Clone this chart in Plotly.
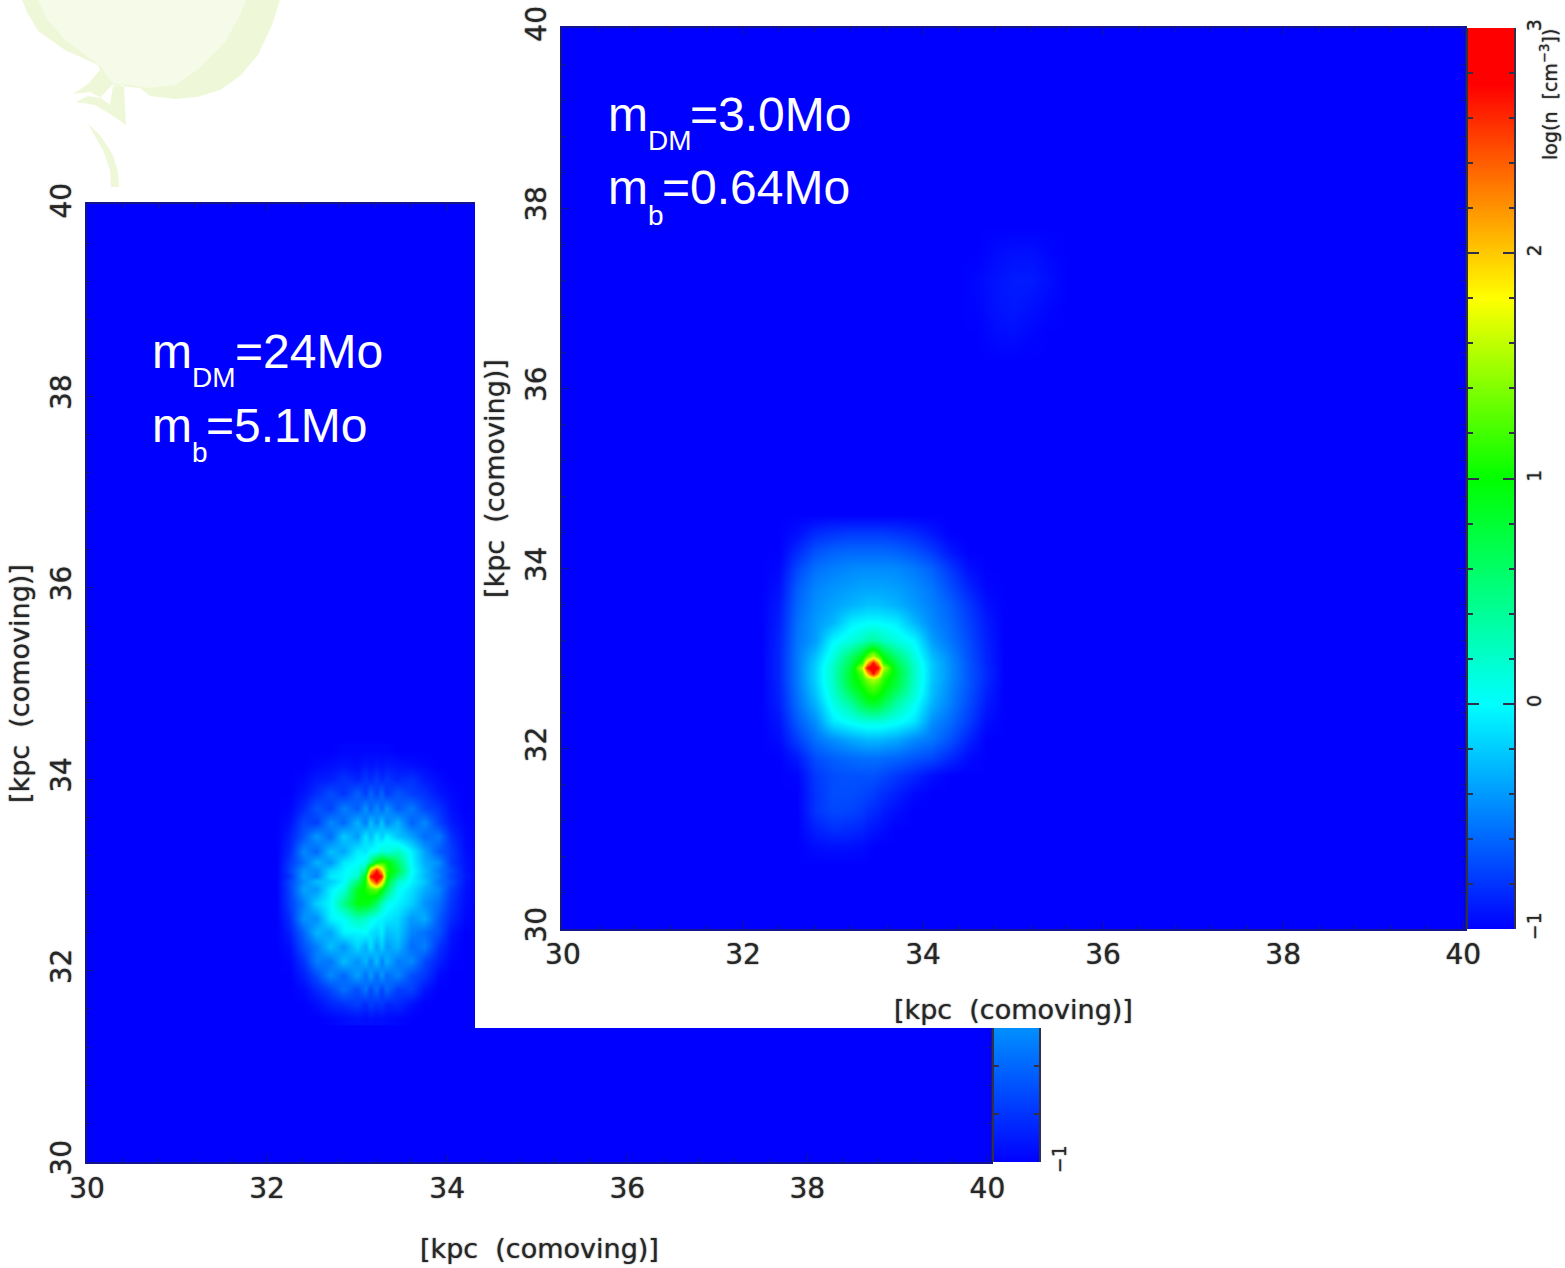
import plotly.graph_objects as go

W, H = 1565, 1268
NAVY = "#14148c"
TXT = "#262626"
BAR = "#30304a"
BLUR = "0 0 1.5px rgba(0,0,0,0.65)"
TICK_FONT = dict(family="DejaVu Sans", size=28, color=TXT, shadow=BLUR)
TITLE_FONT = dict(family="DejaVu Sans", size=27, color=TXT, shadow=BLUR)

# colour scale stops (log n)
cb_levels = [-1, 0, 1, 1.8, 2.75, 3]
cb_colors = ["#0000ff", "#00ffff", "#00ff00", "#ffff00", "#ff0000", "#ff0000"]
cb_ticks = [-1, 0, 1, 2, 3]
cb_labels = ["\u22121", "0", "1", "2", "3"]
pos_ticks = [30, 32, 34, 36, 38, 40]
floor_value = -1
axis_title = "[kpc\u00a0\u00a0(comoving)]"

# right-hand panel (m_DM = 3.0)
front_x = [32.2, 32.4, 32.6, 32.8, 33.0, 33.2, 33.32, 33.38, 33.44, 33.5, 33.56, 33.7, 33.9, 34.1, 34.3, 34.5, 34.7, 34.9, 35.1]
front_y = [34.6, 34.4, 34.2, 34.0, 33.8, 33.6, 33.4, 33.2, 33.02, 32.96, 32.9, 32.84, 32.78, 32.7, 32.6, 32.5, 32.3, 32.1, 31.9, 31.7, 31.5, 31.3, 31.1, 30.9, 30.7]
front_z = [
 [-1,-1,-1,-1,-1,-1,-1,-1,-1,-1,-1,-1,-1,-1,-1,-1,-1,-1,-1],
 [-1,-1,-.95,-.84,-.8,-.78,-.78,-.78,-.78,-.78,-.78,-.8,-.84,-.92,-1,-1,-1,-1,-1],
 [-1,-1,-.84,-.68,-.62,-.6,-.6,-.6,-.6,-.6,-.6,-.62,-.68,-.78,-.92,-1,-1,-1,-1],
 [-1,-.97,-.72,-.56,-.5,-.46,-.45,-.45,-.45,-.45,-.45,-.46,-.52,-.62,-.78,-.94,-1,-1,-1],
 [-1,-.94,-.64,-.48,-.42,-.38,-.36,-.36,-.36,-.36,-.36,-.38,-.45,-.54,-.7,-.86,-.98,-1,-1],
 [-1,-.9,-.6,-.44,-.36,-.3,-.26,-.24,-.24,-.24,-.26,-.3,-.4,-.5,-.62,-.78,-.94,-1,-1],
 [-1,-.88,-.56,-.4,-.28,-.06,-.02,0,0,0,-.02,-.06,-.28,-.46,-.58,-.74,-.9,-1,-1],
 [-1,-.86,-.54,-.38,-.02,.12,.25,.32,.38,.32,.25,.12,-.02,-.38,-.54,-.7,-.88,-1,-1],
 [-1,-.85,-.52,-.24,.12,.6,.95,1.3,1.6,1.3,.95,.55,.12,-.26,-.46,-.68,-.86,-1,-1],
 [-1,-.85,-.52,-.2,.18,.7,1.15,2.0,2.7,2.1,1.15,.7,.18,-.22,-.45,-.66,-.86,-1,-1],
 [-1,-.85,-.52,-.18,.22,.8,1.6,2.7,3,2.7,1.6,.8,.22,-.22,-.44,-.66,-.84,-1,-1],
 [-1,-.85,-.52,-.18,.22,.85,1.25,2.0,2.7,2.1,1.3,.85,.22,-.22,-.44,-.66,-.84,-1,-1],
 [-1,-.85,-.52,-.18,.22,.85,1.15,1.4,1.6,1.45,1.15,.8,.22,-.22,-.44,-.66,-.84,-1,-1],
 [-1,-.86,-.53,-.2,.2,.8,1.05,1.2,1.3,1.2,1.05,.75,.2,-.24,-.46,-.66,-.86,-1,-1],
 [-1,-.87,-.55,-.24,.16,.6,.9,1.02,1.08,1.02,.9,.55,.15,-.26,-.48,-.68,-.88,-1,-1],
 [-1,-.88,-.57,-.3,.08,.38,.68,.8,.85,.8,.68,.35,.05,-.3,-.5,-.7,-.9,-1,-1],
 [-1,-.92,-.65,-.44,-.08,.04,.1,.12,.12,.12,.1,.04,-.1,-.44,-.58,-.76,-.95,-1,-1],
 [-1,-.96,-.76,-.56,-.44,-.34,-.3,-.28,-.28,-.28,-.3,-.34,-.46,-.54,-.68,-.86,-1,-1,-1],
 [-1,-1,-.9,-.7,-.62,-.58,-.56,-.56,-.56,-.56,-.58,-.6,-.66,-.72,-.84,-.96,-1,-1,-1],
 [-1,-1,-.98,-.78,-.7,-.68,-.68,-.68,-.68,-.7,-.72,-.78,-.86,-.95,-1,-1,-1,-1,-1],
 [-1,-1,-1,-.8,-.7,-.7,-.72,-.74,-.76,-.8,-.82,-.88,-.97,-1,-1,-1,-1,-1,-1],
 [-1,-1,-1,-.8,-.72,-.74,-.78,-.82,-.84,-.86,-.9,-.95,-1,-1,-1,-1,-1,-1,-1],
 [-1,-1,-1,-.88,-.82,-.84,-.87,-.9,-.92,-.94,-.96,-1,-1,-1,-1,-1,-1,-1,-1],
 [-1,-1,-1,-.96,-.94,-.95,-.96,-.98,-1,-1,-1,-1,-1,-1,-1,-1,-1,-1,-1],
 [-1,-1,-1,-1,-1,-1,-1,-1,-1,-1,-1,-1,-1,-1,-1,-1,-1,-1,-1],
]

# faint clump in the upper part of the right-hand panel
clump_x = [34.4, 34.6, 34.8, 35.0, 35.2, 35.4, 35.6]
clump_y = [37.8, 37.5, 37.2, 36.9, 36.6, 36.3]
clump_z = [
 [-1, -1, -1, -1, -1, -1, -1],
 [-1, -1, -.96, -.94, -.94, -.98, -1],
 [-1, -.97, -.93, -.9, -.9, -.95, -1],
 [-1, -.98, -.93, -.91, -.94, -.98, -1],
 [-1, -1, -.96, -.95, -.98, -1, -1],
 [-1, -1, -1, -1, -1, -1, -1],
]

# left-hand panel (m_DM = 24)
back_x = [32.1, 32.25, 32.4, 32.55, 32.7, 32.85, 33.0, 33.09, 33.15, 33.21, 33.27, 33.33, 33.45, 33.6, 33.75, 33.9, 34.05, 34.2, 34.35]
back_y = [34.3, 34.15, 34.0, 33.85, 33.7, 33.55, 33.4, 33.25, 33.13, 33.05, 32.99, 32.93, 32.85, 32.7, 32.55, 32.4, 32.25, 32.1, 31.95, 31.8, 31.65, 31.5]
back_z = [
 [-1,-1,-1,-1,-1,-.98,-.98,-.98,-.98,-.98,-.98,-.98,-1,-1,-1,-1,-1,-1,-1],
 [-1,-1,-1,-.97,-.95,-.92,-.95,-.9,-.93,-.9,-.93,-.9,-.92,-.95,-.97,-1,-1,-1,-1],
 [-1,-1,-.97,-.9,-.88,-.8,-.86,-.78,-.84,-.76,-.84,-.78,-.85,-.8,-.9,-.96,-1,-1,-1],
 [-1,-1,-.92,-.82,-.7,-.8,-.62,-.76,-.6,-.74,-.6,-.78,-.66,-.76,-.8,-.92,-.97,-1,-1],
 [-1,-.98,-.84,-.66,-.74,-.5,-.64,-.42,-.62,-.44,-.6,-.42,-.64,-.52,-.72,-.8,-.94,-1,-1],
 [-1,-.94,-.72,-.76,-.46,-.6,-.3,-.52,-.24,-.46,-.22,-.48,-.3,-.62,-.46,-.74,-.9,-.98,-1],
 [-1,-.88,-.66,-.4,-.58,-.2,-.4,-.08,-.28,-.04,-.2,-.02,-.22,-.36,-.58,-.52,-.82,-.96,-1],
 [-1,-.84,-.46,-.6,-.24,-.36,-.05,-.1,.02,.0,.2,.1,.25,-.05,-.36,-.64,-.76,-.95,-1],
 [-1,-.78,-.56,-.3,-.42,-.08,.0,.1,.5,1.0,1.15,1.05,.6,-.02,-.32,-.44,-.78,-.92,-1],
 [-1,-.74,-.42,-.46,-.16,-.04,.12,.5,2.0,2.7,2.0,1.15,.75,.02,-.26,-.52,-.7,-.92,-1],
 [-1,-.8,-.38,-.48,-.08,-.02,.2,1.0,2.7,3,2.7,1.1,.5,-.02,-.28,-.48,-.74,-.9,-1],
 [-1,-.72,-.44,-.26,-.2,-.02,.55,1.05,2.0,2.7,2.0,.9,.2,-.04,-.22,-.54,-.68,-.92,-1],
 [-1,-.74,-.36,-.4,-.06,.12,.9,1.05,1.2,1.3,1.0,.6,.05,-.12,-.32,-.46,-.76,-.93,-1],
 [-1,-.76,-.5,-.18,-.02,.45,.95,.95,.85,.6,.3,.05,-.04,-.18,-.42,-.56,-.8,-.95,-1],
 [-1,-.82,-.42,-.44,-.04,.02,.3,.2,.1,.0,-.04,-.08,-.14,-.4,-.32,-.64,-.84,-.97,-1],
 [-1,-.88,-.6,-.28,-.36,-.04,-.04,.0,-.1,-.16,-.06,-.26,-.2,-.48,-.56,-.68,-.92,-1,-1],
 [-1,-.94,-.68,-.5,-.24,-.42,-.14,-.32,-.1,-.36,-.18,-.38,-.28,-.58,-.5,-.8,-.95,-1,-1],
 [-1,-.98,-.8,-.5,-.54,-.26,-.44,-.28,-.48,-.24,-.5,-.3,-.52,-.46,-.72,-.88,-.98,-1,-1],
 [-1,-1,-.88,-.7,-.46,-.6,-.36,-.56,-.38,-.6,-.4,-.58,-.48,-.7,-.78,-.96,-1,-1,-1],
 [-1,-1,-.96,-.84,-.72,-.56,-.7,-.54,-.72,-.56,-.74,-.58,-.76,-.74,-.92,-1,-1,-1,-1],
 [-1,-1,-1,-.95,-.86,-.82,-.76,-.84,-.76,-.82,-.78,-.86,-.84,-.94,-1,-1,-1,-1,-1],
 [-1,-1,-1,-1,-.98,-.95,-.93,-.95,-.93,-.95,-.94,-.96,-.97,-1,-1,-1,-1,-1,-1],
]


def dom_x(a, b):
    return [a / W, b / W]


def dom_y(top, bottom):
    return [1 - bottom / H, 1 - top / H]


scale = [[(v + 1) / 4, c] for v, c in zip(cb_levels, cb_colors)]
common = dict(colorscale=scale, zmin=-1, zmax=3, showscale=False, hoverinfo="skip")

fig = go.Figure()


def add_panel(n, xs, ys, zs):
    """Field panel: uniform floor plus the measured grid, on axes n."""
    kw = dict(xaxis=f"x{n}", yaxis=f"y{n}", **common)
    fig.add_trace(go.Heatmap(x=pos_ticks, y=pos_ticks,
                             z=[[floor_value] * 6] * 6, zsmooth="best", **kw))
    fig.add_trace(go.Heatmap(x=xs, y=ys[::-1], z=zs[::-1], zsmooth="best", **kw))


def add_bar(n):
    fig.add_trace(go.Heatmap(x=[0, 1], y=cb_levels, z=[[v, v] for v in cb_levels],
                             zsmooth="best", xaxis=f"x{n}", yaxis=f"y{n}", **common))


# stacking follows the axis numbers: left panel, its bar, white page edge, right panel, its bar
add_panel("", back_x, back_y, back_z)
add_bar(2)
fig.add_trace(go.Heatmap(x=[0, 1], y=[0, 1], z=[[0, 0], [0, 0]], xaxis="x3", yaxis="y3",
                         colorscale=[[0, "#ffffff"], [1, "#ffffff"]], showscale=False,
                         hoverinfo="skip", zsmooth="best"))
add_panel(4, front_x, front_y, front_z)
fig.add_trace(go.Heatmap(x=clump_x, y=clump_y[::-1], z=clump_z[::-1], zsmooth="best",
                         xaxis="x4", yaxis="y4", **common))
add_bar(5)

minor = dict(ticks="inside", ticklen=4, tickcolor=NAVY, dtick=0.4, tickwidth=1)


def x_axis(domain, rng, anchor, standoff):
    return dict(domain=domain, range=rng, anchor=anchor, tickvals=pos_ticks, ticks="inside",
                ticklen=7, tickcolor=NAVY, tickangle=0, tickfont=TICK_FONT, showgrid=False,
                zeroline=False, showline=True, linecolor=NAVY, linewidth=1.5, mirror="ticks", minor=minor,
                ticklabelstandoff=standoff, automargin=False)


def y_axis(domain, rng, anchor):
    return dict(domain=domain, range=rng, anchor=anchor, tickvals=pos_ticks, ticks="inside",
                ticklen=7, tickcolor=NAVY, tickangle=-90, tickfont=TICK_FONT, showgrid=False,
                zeroline=False, showline=True, linecolor=NAVY, linewidth=1.5, mirror="ticks", minor=minor,
                ticklabelstandoff=3, automargin=False)


def bar_x(domain, anchor):
    return dict(domain=domain, range=[0, 1], anchor=anchor, visible=False)


def bar_y(domain, anchor):
    return dict(domain=domain, range=[-1, 3], anchor=anchor, side="right", tickvals=cb_ticks,
                ticktext=cb_labels, ticks="inside", ticklen=11, tickcolor=BAR, tickwidth=2, mirror="ticks",
                showline=True, linecolor=BAR, linewidth=2, tickangle=-90, showgrid=False, zeroline=False,
                tickfont=dict(family="DejaVu Sans", size=19, color=TXT, shadow=BLUR), ticklabelstandoff=2,
                minor=dict(ticks="inside", ticklen=5, tickcolor=BAR, tickwidth=2, dtick=0.2), automargin=False)


layout = dict(
    width=W, height=H, margin=dict(l=0, r=0, t=0, b=0, pad=0), autosize=False,
    paper_bgcolor="white", plot_bgcolor="white", showlegend=False,
    xaxis=x_axis(dom_x(87, 991), [30, 40.04], "y", 1),
    yaxis=y_axis(dom_y(204, 1162), [30, 40.01], "x"),
    xaxis2=bar_x(dom_x(994, 1039), "y2"),
    yaxis2=bar_y(dom_y(204, 1162), "x2"),
    xaxis3=dict(domain=dom_x(475, W), range=[0, 1], anchor="y3", visible=False),
    yaxis3=dict(domain=dom_y(0, 1028), range=[0, 1], anchor="x3", visible=False),
    xaxis4=x_axis(dom_x(562, 1465), [29.99, 40.02], "y4", 0),
    yaxis4=y_axis(dom_y(28, 929), [30, 40], "x4"),
    xaxis5=bar_x(dom_x(1468, 1514), "y5"),
    yaxis5=bar_y(dom_y(28, 929), "x5"),
)


def path(points):
    return "M" + " L".join(f"{x/W:.5f},{1-y/H:.5f}" for x, y in points) + " Z"


balloon_outer = [(22, 0), (27, 12), (38, 31), (65, 50), (98, 65), (100, 70), (88, 84), (73, 94),
                 (90, 92), (100, 97), (110, 105), (113, 86), (124, 85), (126, 125), (110, 114),
                 (95, 105), (76, 102), (88, 96), (100, 98), (112, 85), (140, 88), (150, 96), (175, 99),
                 (197, 97), (220, 90), (240, 76), (258, 55), (272, 25), (280, 0)]
balloon_inner = [(38, 0), (48, 20), (65, 40), (100, 66), (113, 84), (125, 84), (150, 88), (175, 85),
                 (200, 68), (225, 42), (240, 15), (246, 0)]
streamer = [(88, 124), (100, 135), (113, 155), (118, 172), (119, 187), (111, 187), (110, 170), (103, 150)]

shapes = []
for pts, col in ((balloon_outer, "#eef8d8"), (balloon_inner, "#f5fbe8"), (streamer, "#eef8d8")):
    shapes.append(dict(type="path", xref="paper", yref="paper", layer="below", path=path(pts),
                       fillcolor=col, line=dict(width=0)))
layout["shapes"] = shapes


def label(text, px, py, size):
    return dict(text=text, x=px / W, y=1 - py / H, xref="paper", yref="paper", xanchor="left",
                yanchor="middle", showarrow=False,
                font=dict(family="Liberation Sans", size=size, color="white"))


def axis_label(px, py, angle=0):
    return dict(text=axis_title, x=px / W, y=1 - py / H, xref="paper", yref="paper", showarrow=False,
                textangle=angle, xanchor="center", yanchor="middle", font=TITLE_FONT)


annotations = [
    label("m", 150, 351, 48), label("DM", 190, 378, 28), label("=24Mo", 233, 351, 48),
    label("m", 150, 425, 48), label("b", 190, 452, 28), label("=5.1Mo", 204, 425, 48),
    label("m", 606, 114, 48), label("DM", 646, 141, 28), label("=3.0Mo", 688, 114, 48),
    label("m", 606, 188, 48), label("b", 646, 215, 28), label("=0.64Mo", 660, 188, 48),
    axis_label(539, 1248), axis_label(19, 684, -90),
    axis_label(1013, 1009), axis_label(494, 479, -90),
    dict(text="log(n\u00a0\u00a0[cm<sup>\u22123</sup>])", x=1549 / W, y=1 - 95 / H, xref="paper", yref="paper",
         showarrow=False, textangle=-90, xanchor="center", yanchor="middle",
         font=dict(family="DejaVu Sans", size=19, color=TXT, shadow=BLUR)),
]
layout["annotations"] = annotations
fig.update_layout(**layout)

fig.write_html("out.html", config=dict(displayModeBar=False),
               post_script="document.body.style.margin='0';")
